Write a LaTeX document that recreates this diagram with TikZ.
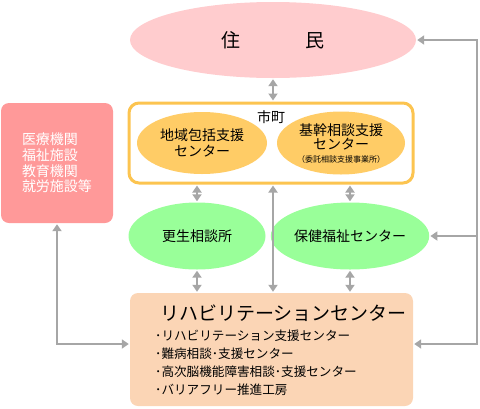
\documentclass[tikz,border=0pt]{standalone}
\usepackage{fontspec}
\setmainfont{Noto Sans CJK JP}
\usetikzlibrary{positioning,shapes.geometric,arrows.meta}
\definecolor{Resident}{RGB}{255,204,206}
\definecolor{Medical}{RGB}{255,153,153}
\definecolor{CityLine}{RGB}{252,196,80}
\definecolor{CityOval}{RGB}{255,204,102}
\definecolor{Consult}{RGB}{153,255,153}
\definecolor{Rehab}{RGB}{251,213,181}
\definecolor{Link}{RGB}{166,166,166}
\newcommand{\obox}[3]{
    \node(#1)[
        ellipse,
        inner sep=0pt,
        align=center,
        font=\fontsize{14}{16}\selectfont,
        #2
    ]{#3};
}
\newcommand{\rbox}[3]{
    \node(#1)[
        rectangle,
        rounded corners=8pt,
        inner sep=0pt,
        align=left,
        #2
    ]{#3};
}
\tikzset{
    link/.style={line width=2.8pt, color=Link, shorten >=1pt, shorten <=1pt},
    both/.style={link, {Triangle[length=7pt,width=9pt]}-{Triangle[length=7pt,width=9pt]}},
    one/.style={link, -{Triangle[length=7pt,width=9pt]}}
}

\begin{document}
\begin{tikzpicture}[x=1pt, y=-1pt]
	\useasboundingbox (0,0) rectangle (480,408);

	\obox{res}{at={(273,40)}, minimum width=286pt, minimum height=76pt, fill=Resident, font=\fontsize{19}{21}\selectfont}{住\hspace{3.4em}民}

	\rbox{city}{at={(271,143)}, minimum width=284pt, minimum height=80pt, draw=CityLine, line width=3pt, rounded corners=10pt, fill=white}{}
	\node(city label)[font=\fontsize{14}{16}\selectfont] at (271,117) {市町};

	\obox{comm}{at={(202,143)}, minimum width=130pt, minimum height=62pt, fill=CityOval}{地域包括支援\\センター}
	\obox{base}{at={(341,143)}, minimum width=128pt, minimum height=63pt, fill=CityOval}{基幹相談支援\\[-2pt]センター\\[-3pt]{\fontsize{8}{9}\selectfont （委託相談支援事業所）}}

	\rbox{med}{at={(57,163)}, minimum width=112pt, minimum height=120pt, fill=Medical, text=white, font=\fontsize{14}{15.7}\selectfont}{医療機関\\福祉施設\\教育機関\\就労施設等}

	\obox{kosei}{at={(197,236)}, minimum width=137pt, minimum height=67pt, fill=Consult}{更生相談所}
	\obox{hoken}{at={(350,236)}, minimum width=135pt, minimum height=67pt, fill=Consult}{保健福祉センター}

	\rbox{reha}{at={(271.5,349.5)}, minimum width=283pt, minimum height=113pt, fill=Rehab}{}
	\node(reha title)[anchor=west, inner sep=0pt, font=\fontsize{19}{21}\selectfont] at (160,313) {リハビリテーションセンター};
	\node(reha list)[anchor=north west, inner sep=0pt, align=left, font=\fontsize{12.6}{18}\selectfont] at (155,330) {･リハビリテーション支援センター\\･難病相談･支援センター\\･高次脳機能障害相談･支援センター\\･バリアフリー推進工房};

	% links
	\draw[both] (res.south) -- (res.south |- city.north);
	\draw[both] (city.south -| kosei.north) -- (kosei.north);
	\draw[both] (city.south -| 273,0) -- (reha.north -| 273,0);
	\draw[both] (city.south -| hoken.north) -- (hoken.north);
	\draw[both] (kosei.south) -- (kosei.south |- reha.north);
	\draw[both] (hoken.south) -- (hoken.south |- reha.north);

	\coordinate (bus top) at (477,40);
	\coordinate (bus bot) at (477,344);
	\draw[both] (res.east) -- (bus top) -- (bus bot) -- (reha.east |- bus bot);
	\draw[one] (hoken.east -| bus bot) -- (hoken.east);
	\draw[both] (med.south) |- (reha.west |- bus bot);
\end{tikzpicture}
\end{document}
